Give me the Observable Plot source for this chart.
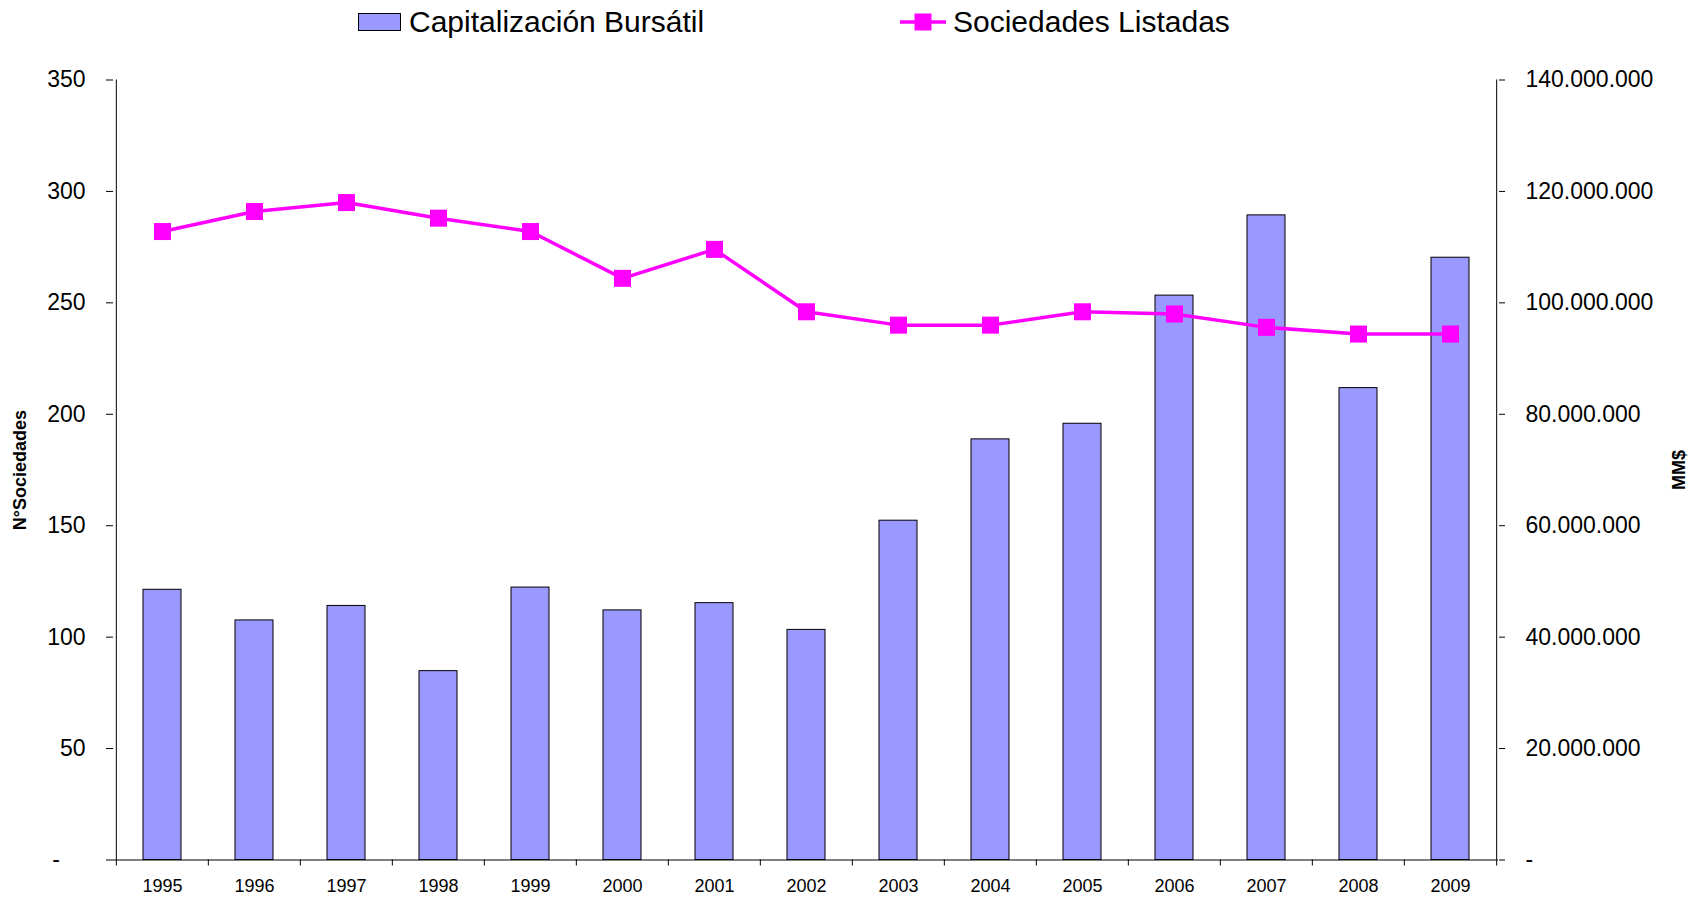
<!DOCTYPE html>
<html>
<head>
<meta charset="utf-8">
<script src="https://cdn.jsdelivr.net/npm/d3@7"></script>
<script src="https://cdn.jsdelivr.net/npm/@observablehq/plot@0.6"></script>
<style>
  html, body { margin: 0; padding: 0; background: #fff; }
  #wrap { width: 1704px; font-family: "Liberation Sans", Arial, sans-serif; color: #000; }
  #legend { position: relative; width: 1704px; height: 44px; }
  #legend .sw { position: absolute; left: 358px; top: 13px; width: 43px; height: 18px; background: #9999FF; border: 1px solid #000; box-sizing: border-box; }
  #legend .t { position: absolute; top: 0; line-height: 44px; font-size: 30px; white-space: nowrap; }
  #legend svg { position: absolute; left: 900px; top: 0; }
</style>
</head>
<body>
<div id="wrap">
  <div id="legend">
    <div class="sw"></div>
    <div class="t" style="left:409px">Capitalización Bursátil</div>
    <svg width="46" height="44"><line x1="0" x2="46" y1="22" y2="22" stroke="#FF00FF" stroke-width="3.5"/><rect x="14.5" y="13.5" width="17" height="17" fill="#FF00FF"/></svg>
    <div class="t" style="left:953px">Sociedades Listadas</div>
  </div>
  <div id="chart"></div>
</div>
<script>
const years = ["1995","1996","1997","1998","1999","2000","2001","2002","2003","2004","2005","2006","2007","2008","2009"];
const capitalizacion = [48500000, 43000000, 45600000, 33900000, 48900000, 44800000, 46100000, 41300000, 60900000, 75500000, 78300000, 101300000, 115700000, 84700000, 108100000];
const sociedades = [282, 291, 295, 288, 282, 261, 274, 246, 240, 240, 246, 245, 239, 236, 236];
const leftTicks = [0, 50, 100, 150, 200, 250, 300, 350];
const leftMax = 350;
const rightMax = 140000000;

const rows = years.map((year, i) => ({year, cap: capitalizacion[i], capScaled: capitalizacion[i] * leftMax / rightMax, soc: sociedades[i]}));

const W = 1704, H = 853, mL = 113, mR = 206, mT = 35.5, mB = 37.5;
const step = (W - mL - mR) / years.length;
const dots = d3.format(",");
const fmtLeft = d => d === 0 ? "-\u00a0\u00a0\u00a0\u00a0" : String(d);
const fmtRight = d => d === 0 ? "-" : dots(Math.round(d * rightMax / leftMax)).replace(/,/g, ".");

const chart = Plot.plot({
  width: W, height: H,
  marginTop: mT, marginBottom: mB, marginLeft: mL, marginRight: mR,
  style: {fontFamily: "'Liberation Sans', Arial, sans-serif", fontSize: "18px", color: "#000", background: "#fff"},
  x: {type: "band", domain: years, paddingInner: 0.59, paddingOuter: 0.295, axis: null},
  y: {domain: [0, leftMax], axis: null},
  marks: [
    Plot.barY(rows, {x: "year", y: "capScaled", fill: "#9999FF", stroke: "#000", strokeWidth: 1}),
    Plot.ruleY([0], {stroke: "#000", strokeWidth: 1}),
    Plot.ruleX([years[0]], {dx: -step / 2, stroke: "#000", strokeWidth: 1}),
    Plot.ruleX([years[years.length - 1]], {dx: step / 2, stroke: "#000", strokeWidth: 1}),
    Plot.axisY({anchor: "left", ticks: leftTicks, tickSize: 7, tickPadding: 21, tickFormat: fmtLeft, fontSize: 23, label: null, stroke: "#000"}),
    Plot.axisY({anchor: "right", ticks: leftTicks, tickSize: 6, tickPadding: 21, tickFormat: fmtRight, fontSize: 23, label: null, stroke: "#000"}),
    Plot.axisX({anchor: "bottom", ticks: years, tickSize: 6, tickFormat: () => "", dx: -step / 2, label: null, stroke: "#000"}),
    Plot.axisX({anchor: "bottom", ticks: [years[years.length - 1]], tickSize: 6, tickFormat: () => "", dx: step / 2, label: null, stroke: "#000"}),
    Plot.axisX({anchor: "bottom", ticks: years, tickSize: 0, tickPadding: 19, fontSize: 18, label: null}),
    Plot.line(rows, {x: "year", y: "soc", stroke: "#FF00FF", strokeWidth: 3.5}),
    Plot.dot(rows, {x: "year", y: "soc", symbol: "square", r: 9.6, fill: "#FF00FF", stroke: "none"}),
    Plot.text(["N°Sociedades"], {frameAnchor: "left", dx: -93, rotate: -90, textAnchor: "middle", lineAnchor: "middle", fontSize: 18, fontWeight: "bold"}),
    Plot.text(["MM$"], {frameAnchor: "right", dx: 181, rotate: -90, textAnchor: "middle", lineAnchor: "middle", fontSize: 18, fontWeight: "bold"})
  ]
});
document.getElementById("chart").appendChild(chart);
</script>
</body>
</html>
